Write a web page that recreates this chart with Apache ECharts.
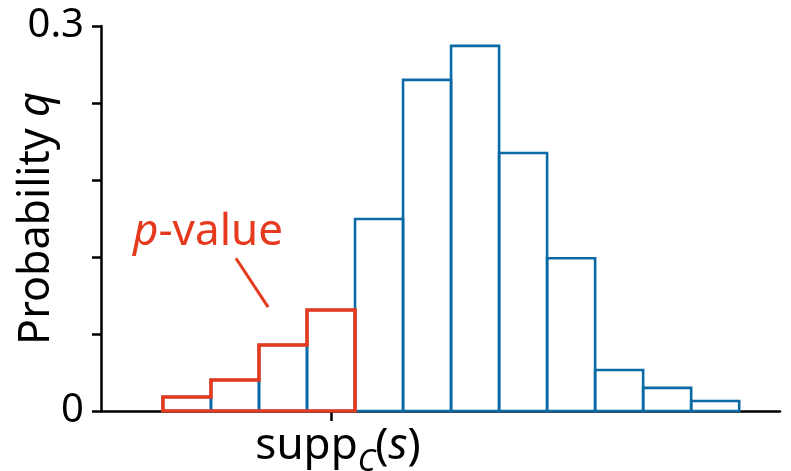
<!DOCTYPE html>
<html>
<head>
<meta charset="utf-8">
<script src="https://cdn.jsdelivr.net/npm/echarts@6/dist/echarts.min.js"></script>
<style>html,body{margin:0;padding:0;background:#fff}#c{width:791px;height:471px}</style>
</head>
<body>
<div id="c"></div>
<script>
// Histogram bins (bin index -> probability q)
const binValues = [0.0109, 0.0242, 0.0514, 0.0787, 0.1496, 0.258, 0.2845, 0.201, 0.119, 0.032, 0.018, 0.0078];
// number of left bins included in the p-value region
const pValueBinCount = 4;
// y tick labels shown
const yTickLabels = [0, 0.3];
// x tick (observed support) position, in bin units
const xTickValues = [3.5];
const annotationLine = [[1.52, 0.119], [2.19, 0.081]];

const BLUE = '#0b6aa6';
const RED = '#e63a1f';
const FONT = 'Noto Sans';

// red step outline of p-value bins
const redPath = [[0, 0]];
for (let i = 0; i < pValueBinCount; i++) {
  redPath.push([i, binValues[i]]);
  redPath.push([i + 1, binValues[i]]);
}
redPath.push([pValueBinCount, 0]);
redPath.push([0, 0]);

const chart = echarts.init(document.getElementById('c'));
chart.setOption({
  animation: false,
  grid: { left: 101, right: 11, top: 26, bottom: 60, containLabel: false, outerBoundsMode: 'none' },
  xAxis: {
    type: 'value', min: -1.29, max: 12.85,
    axisLine: { show: true, onZero: false, lineStyle: { color: '#000', width: 2.5 } },
    axisTick: { show: true, customValues: xTickValues, length: 10, lineStyle: { color: '#000', width: 2.5 } },
    axisLabel: {
      customValues: xTickValues, margin: 5,
      formatter: () => 'supp{sub|C}({it|s})',
      padding: [0, 0, 0, 14],
      rich: {
        sub: { fontFamily: FONT, fontSize: 30, fontStyle: 'italic', color: '#000', verticalAlign: 'bottom', padding: [31, 0, 0, 0] },
        it: { fontFamily: FONT, fontSize: 44, fontStyle: 'italic', color: '#000' }
      },
      fontFamily: FONT, fontSize: 44, color: '#000'
    },
    splitLine: { show: false }
  },
  yAxis: {
    type: 'value', min: 0, max: 0.3, interval: 0.06,
    name: 'Probability {it|q}', nameLocation: 'middle', nameGap: 43, nameMoveOverlap: false,
    nameTextStyle: { fontFamily: FONT, fontSize: 43, color: '#000',
      rich: { it: { fontFamily: FONT, fontSize: 43, fontStyle: 'italic', color: '#000' } } },
    axisLine: { show: true, onZero: false, lineStyle: { color: '#000', width: 2.5 } },
    axisTick: { show: true, length: 9, lineStyle: { color: '#000', width: 2.5 } },
    axisLabel: {
      margin: 17, fontFamily: FONT, fontSize: 40, color: '#000',
      formatter: v => yTickLabels.some(t => Math.abs(t - v) < 1e-9) ? String(v) : ''
    },
    splitLine: { show: false }
  },
  series: [
    {
      type: 'custom',
      data: binValues.map((v, i) => [i, v]),
      encode: { x: 0, y: 1 },
      renderItem: (params, api) => {
        const i = api.value(0), v = api.value(1);
        const p0 = api.coord([i, v]);
        const p1 = api.coord([i + 1, 0]);
        return {
          type: 'rect',
          shape: { x: p0[0], y: p0[1], width: p1[0] - p0[0], height: p1[1] - p0[1] },
          style: { fill: 'none', stroke: BLUE, lineWidth: 2.6 }
        };
      },
      z: 2
    },
    {
      type: 'line',
      data: redPath,
      symbol: 'none',
      lineStyle: { color: RED, width: 3.6, join: 'miter', cap: 'square' },
      z: 3
    },
    {
      type: 'line',
      data: annotationLine,
      symbol: 'none',
      lineStyle: { color: RED, width: 3 },
      z: 3
    }
  ],
  graphic: [{
    type: 'text', x: 208, y: 232,
    style: {
      text: '{it|p}-value', fill: RED, fontFamily: FONT, fontSize: 44,
      align: 'center', verticalAlign: 'middle',
      rich: { it: { fontFamily: FONT, fontSize: 44, fontStyle: 'italic', fill: RED } }
    }
  }]
});
</script>
</body>
</html>
